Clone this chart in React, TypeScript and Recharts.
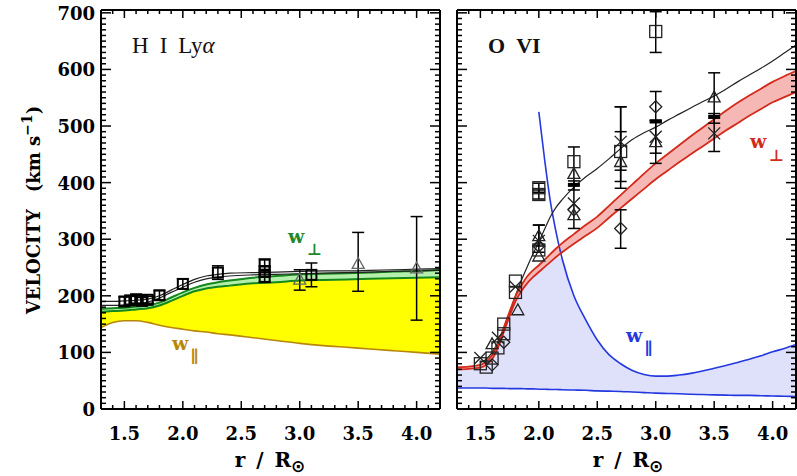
import React from 'react';
import { ComposedChart, Line, Area, Scatter, ErrorBar, XAxis, YAxis } from 'recharts';

// ---- H I Ly-alpha panel (left) ----
const lyaR = [1.3, 1.4, 1.5, 1.6, 1.7, 1.8, 1.9, 2.0, 2.1, 2.2, 2.3, 2.4, 2.6, 2.8, 3.0, 3.2, 3.4, 3.6, 3.8, 4.0, 4.2];
const lyaWpar = [144, 153, 156, 156, 153, 148, 144, 141, 138, 136, 133, 131, 126, 121, 116, 112, 109, 106, 103, 100, 97];
const lyaPerpLo = [172, 173, 174, 176, 178, 183, 191, 200, 208, 213, 216, 218, 222, 224, 227, 228, 229, 230, 231, 232, 233];
const lyaPerpHi = [177, 178, 179, 181, 183, 188, 197, 206, 214, 220, 224, 227, 232, 235, 238, 239, 240, 241, 243, 244, 246];
const lyaFitA = [190, 190, 191, 192, 194, 200, 210, 220, 229, 235, 238, 240, 241, 242, 243, 244, 244, 245, 246, 247, 248];
const lyaFitB = [183, 183, 184, 186, 189, 196, 206, 215, 224, 230, 233, 235, 237, 238, 239, 240, 241, 242, 243, 244, 245];

const lyaSquares = [
  { r: 1.5, v: 190, e: 8 }, { r: 1.55, v: 192, e: 7 }, { r: 1.6, v: 194, e: 7 },
  { r: 1.65, v: 191, e: 6 }, { r: 1.7, v: 193, e: 6 }, { r: 1.8, v: 201, e: 8 },
  { r: 2.0, v: 221, e: 9 }, { r: 2.3, v: 241, e: 12 }, { r: 2.7, v: 255, e: 10 },
  { r: 2.7, v: 243, e: 10 }, { r: 2.7, v: 233, e: 8 }, { r: 3.1, v: 237, e: 21 },
];
const lyaTriangles = [
  { r: 3.0, v: 229, e: [19, 17] }, { r: 3.5, v: 257, e: [49, 55] }, { r: 4.0, v: 249, e: [92, 91] },
];

// ---- O VI panel (right) ----
const oviR = [1.3, 1.4, 1.5, 1.55, 1.6, 1.65, 1.7, 1.75, 1.8, 1.85, 1.9, 1.95, 2.0, 2.05, 2.1, 2.15, 2.2, 2.3, 2.4, 2.5, 2.6, 2.7, 2.8, 2.9, 3.0, 3.1, 3.2, 3.3, 3.4, 3.5, 3.6, 3.7, 3.8, 3.9, 4.0, 4.1, 4.2];
const oviPerpLo = [70, 71, 73, 78, 88, 108, 136, 164, 190, 208, 222, 233, 242, 251, 260, 269, 277, 292, 306, 320, 338, 355, 372, 389, 406, 421, 436, 450, 464, 478, 492, 505, 518, 530, 542, 551, 560];
const oviPerpHi = [74, 75, 78, 84, 95, 116, 144, 172, 199, 218, 234, 245, 254, 264, 274, 284, 293, 309, 325, 340, 359, 378, 397, 416, 434, 450, 466, 482, 497, 512, 527, 541, 554, 566, 578, 588, 597];
const oviFit = [null, null, 82, 88, 100, 118, 140, 168, 200, 227, 251, 274, 295, 318, 340, 357, 370, 392, 410, 425, 442, 460, 476, 488, 498, 510, 521, 532, 543, 553, 565, 578, 590, 602, 615, 629, 643];
const oviParHi = [null, null, null, null, null, null, null, null, null, null, null, null, 525, 440, 365, 310, 265, 200, 158, 122, 96, 80, 68, 61, 58, 58, 60, 63, 67, 72, 77, 82, 88, 94, 101, 107, 114];
const oviParLo = [37, 37, 37, 37, 36.5, 36.5, 36.5, 36, 36, 36, 35.5, 35.5, 35, 35, 34.5, 34.5, 34, 33.5, 33, 32, 31.5, 31, 30, 29, 28, 27.5, 27, 26, 25.5, 25, 24.5, 24, 24, 23.5, 23, 22.5, 22];

const oviSquares = [
  { r: 1.5, v: 80 }, { r: 1.55, v: 74 }, { r: 1.6, v: 90 }, { r: 1.65, v: 108 },
  { r: 1.7, v: 150 }, { r: 1.7, v: 133 }, { r: 1.8, v: 226 }, { r: 1.8, v: 206 },
  { r: 2.0, v: 391, e: 8 }, { r: 2.0, v: 379, e: 8 }, { r: 2.0, v: 281 },
  { r: 2.3, v: 437, e: [50, 26] }, { r: 2.7, v: 455, e: [65, 79] }, { r: 3.0, v: 667, e: [37, 35] },
];
const oviTriangles = [
  { r: 1.6, v: 115 }, { r: 1.82, v: 175 }, { r: 2.0, v: 306, e: [18, 19] }, { r: 2.0, v: 270 },
  { r: 2.3, v: 416 }, { r: 2.3, v: 343 }, { r: 2.7, v: 437, e: [35, 53] },
  { r: 3.0, v: 472, e: [38, 38] }, { r: 3.5, v: 551, e: [46, 43] },
];
const oviDiamonds = [
  { r: 1.6, v: 78 }, { r: 1.7, v: 118 }, { r: 2.0, v: 288 }, { r: 2.3, v: 352 },
  { r: 2.7, v: 319, e: [35, 33] }, { r: 3.0, v: 534, e: [27, 27] },
];
const oviCrosses = [
  { r: 1.5, v: 90 }, { r: 1.65, v: 126 }, { r: 1.8, v: 216 }, { r: 2.0, v: 297, e: [20, 28] },
  { r: 2.3, v: 363, e: [44, 40] }, { r: 2.7, v: 472, e: [50, 62] }, { r: 3.0, v: 481, e: [29, 29] },
  { r: 3.5, v: 487, e: [32, 35] },
];
const oviBars = [{ r: 2.3, v: 396 }, { r: 3.0, v: 508 }, { r: 3.5, v: 516 }];

// ---- axes ----
const xMajor = [1.5, 2.0, 2.5, 3.0, 3.5, 4.0];
const yMajor = [0, 100, 200, 300, 400, 500, 600, 700];
const xTicks = Array.from({ length: 30 }, (_, i) => Math.round((1.3 + i * 0.1) * 10) / 10);
const yTicks = Array.from({ length: 71 }, (_, i) => i * 10);

const FONT = '"DejaVu Serif", serif';
const near = (list: number[], v: number) => list.some((m) => Math.abs(m - v) < 1e-6);

const makeXTick = (side: 'bottom' | 'top', labels: boolean) => (props: any) => {
  const { x, y, payload } = props;
  const major = near(xMajor, payload.value);
  const len = major ? 8 : 4;
  const dir = side === 'bottom' ? -1 : 1;
  return (
    <g>
      <line x1={x} x2={x} y1={y} y2={y + dir * len} stroke="#000" strokeWidth={1.5} />
      {labels && major && (
        <text x={x} y={y + 31} textAnchor="middle" fontFamily={FONT} fontWeight="bold" fontSize={18} fill="#000">
          {payload.value.toFixed(1)}
        </text>
      )}
    </g>
  );
};

const makeYTick = (side: 'left' | 'right', labels: boolean) => (props: any) => {
  const { x, y, payload } = props;
  const major = near(yMajor, payload.value);
  const len = major ? 10 : 5;
  const dir = side === 'left' ? 1 : -1;
  return (
    <g>
      <line x1={x} x2={x + dir * len} y1={y} y2={y} stroke="#000" strokeWidth={1.5} />
      {labels && major && (
        <text x={x - 6} y={y + 7} textAnchor="end" fontFamily={FONT} fontWeight="bold" fontSize={18} fill="#000">
          {payload.value}
        </text>
      )}
    </g>
  );
};

const Marker = (p: any) => {
  const { cx, cy, kind, s = 6, color = '#222', sw = 1.3 } = p;
  if (cx == null || cy == null) return null;
  switch (kind) {
    case 'square':
      return <rect x={cx - s} y={cy - s} width={2 * s} height={2 * s} fill="none" stroke={color} strokeWidth={sw} />;
    case 'triangle':
      return <polygon points={`${cx},${cy - s} ${cx - s},${cy + s * 0.8} ${cx + s},${cy + s * 0.8}`} fill="none" stroke={color} strokeWidth={sw} />;
    case 'diamond':
      return <polygon points={`${cx},${cy - s} ${cx + s},${cy} ${cx},${cy + s} ${cx - s},${cy}`} fill="none" stroke={color} strokeWidth={sw} />;
    case 'x':
      return (
        <g stroke={color} strokeWidth={sw}>
          <line x1={cx - s} y1={cy - s} x2={cx + s} y2={cy + s} />
          <line x1={cx - s} y1={cy + s} x2={cx + s} y2={cy - s} />
        </g>
      );
    default:
      return <rect x={cx - 6} y={cy - 2} width={12} height={4} fill="#000" />;
  }
};

const shapeOf = (kind: string, extra: any = {}) => (props: any) => <Marker {...props} {...extra} kind={kind} />;

// axes are 1px thick (0 would not be drawn); margins make the plot box exact
const Frame = (labels: boolean) => [
  <XAxis key="xb" xAxisId={0} dataKey="r" type="number" domain={[1.3, 4.2]} ticks={xTicks} interval={0}
    height={1} tickSize={0} tickMargin={0} tickLine={false} axisLine={{ stroke: '#000', strokeWidth: 2 }}
    tick={makeXTick('bottom', true)} allowDataOverflow />,
  <XAxis key="xt" xAxisId="top" orientation="top" dataKey="r" type="number" domain={[1.3, 4.2]} ticks={xTicks}
    interval={0} height={1} tickSize={0} tickMargin={0} tickLine={false} axisLine={{ stroke: '#000', strokeWidth: 2 }}
    tick={makeXTick('top', false)} allowDataOverflow />,
  <YAxis key="yl" yAxisId={0} type="number" domain={[0, 705]} ticks={yTicks} interval={0} width={1}
    tickSize={0} tickMargin={0} tickLine={false} axisLine={{ stroke: '#000', strokeWidth: 2 }}
    tick={makeYTick('left', labels)} allowDataOverflow />,
  <YAxis key="yr" yAxisId="right" orientation="right" type="number" domain={[0, 705]} ticks={yTicks} interval={0}
    width={1} tickSize={0} tickMargin={0} tickLine={false} axisLine={{ stroke: '#000', strokeWidth: 2 }}
    tick={makeYTick('right', false)} allowDataOverflow />,
];

const lyaRows = lyaR.map((r, i) => ({
  r,
  yellow: [lyaWpar[i], lyaPerpLo[i]],
  green: [lyaPerpLo[i], lyaPerpHi[i]],
  wpar: lyaWpar[i],
  perpLo: lyaPerpLo[i],
  perpHi: lyaPerpHi[i],
  fitA: lyaFitA[i],
  fitB: lyaFitB[i],
}));

const oviRows = oviR.map((r, i) => {
  const hi = oviParHi[i];
  const top = hi == null ? oviPerpLo[i] : Math.min(hi, oviPerpLo[i]);
  return {
    r,
    shade: [oviParLo[i], top],
    red: [oviPerpLo[i], oviPerpHi[i]],
    perpLo: oviPerpLo[i],
    perpHi: oviPerpHi[i],
    fit: oviFit[i],
    parHi: hi,
    parLo: oviParLo[i],
  };
});

const errBar = (w = 6) => <ErrorBar dataKey="e" direction="y" width={w} stroke="#000" strokeWidth={1.5} />;

const LyaPanel = () => (
  <ComposedChart width={448} height={476} data={lyaRows} margin={{ top: 9, right: 7, bottom: 66, left: 100 }}>
    {Frame(true)}
    <Area dataKey="yellow" type="monotone" fill="#ffff00" fillOpacity={1} stroke="none" isAnimationActive={false} />
    <Area dataKey="green" type="monotone" fill="#b4f0ac" fillOpacity={1} stroke="none" isAnimationActive={false} />
    <Line dataKey="wpar" type="monotone" stroke="#b8860b" strokeWidth={1.6} dot={false} isAnimationActive={false} />
    <Line dataKey="perpLo" type="monotone" stroke="#14881c" strokeWidth={2} dot={false} isAnimationActive={false} />
    <Line dataKey="perpHi" type="monotone" stroke="#14881c" strokeWidth={2} dot={false} isAnimationActive={false} />
    <Line dataKey="fitB" type="monotone" stroke="#222" strokeWidth={1.2} dot={false} isAnimationActive={false} />
    <Line dataKey="fitA" type="monotone" stroke="#222" strokeWidth={1.2} dot={false} isAnimationActive={false} />
    <Scatter data={lyaSquares} dataKey="v" shape={shapeOf('square', { s: 5, color: '#000', sw: 2 })} isAnimationActive={false}>
      {errBar(6)}
    </Scatter>
    <Scatter data={lyaTriangles} dataKey="v" shape={shapeOf('triangle', { s: 6, color: '#666', sw: 1.3 })} isAnimationActive={false}>
      {errBar(6)}
    </Scatter>
  </ComposedChart>
);

const OviPanel = () => (
  <ComposedChart width={348} height={476} data={oviRows} margin={{ top: 9, right: 0, bottom: 66, left: 7 }}>
    {Frame(false)}
    <Area dataKey="shade" type="monotone" fill="#dfe1fa" fillOpacity={1} stroke="none" isAnimationActive={false} />
    <Area dataKey="red" type="monotone" fill="#f6b8b4" fillOpacity={1} stroke="none" isAnimationActive={false} />
    <Line dataKey="parLo" type="monotone" stroke="#2438e0" strokeWidth={1.6} dot={false} isAnimationActive={false} />
    <Line dataKey="parHi" type="monotone" stroke="#2438e0" strokeWidth={1.6} dot={false} isAnimationActive={false} />
    <Line dataKey="fit" type="monotone" stroke="#222" strokeWidth={1.2} dot={false} isAnimationActive={false} />
    <Line dataKey="perpLo" type="monotone" stroke="#d42a1c" strokeWidth={1.8} dot={false} isAnimationActive={false} />
    <Line dataKey="perpHi" type="monotone" stroke="#d42a1c" strokeWidth={1.8} dot={false} isAnimationActive={false} />
    <Scatter data={oviSquares} dataKey="v" shape={shapeOf('square', { s: 6 })} isAnimationActive={false}>
      {errBar(6)}
    </Scatter>
    <Scatter data={oviTriangles} dataKey="v" shape={shapeOf('triangle', { s: 6 })} isAnimationActive={false}>
      {errBar(6)}
    </Scatter>
    <Scatter data={oviDiamonds} dataKey="v" shape={shapeOf('diamond', { s: 6 })} isAnimationActive={false}>
      {errBar(6)}
    </Scatter>
    <Scatter data={oviCrosses} dataKey="v" shape={shapeOf('x', { s: 6 })} isAnimationActive={false}>
      {errBar(6)}
    </Scatter>
    <Scatter data={oviBars} dataKey="v" shape={shapeOf('bar')} isAnimationActive={false} />
  </ComposedChart>
);

const sym = '"DejaVu Sans", sans-serif';

const Labels = () => (
  <svg width={797} height={476} style={{ position: 'absolute', left: 0, top: 0, pointerEvents: 'none' }}>
    <text transform="translate(40,210) rotate(-90)" textAnchor="middle" fontFamily={FONT} fontWeight="bold" fontSize={18} fill="#000">
      VELOCITY<tspan dx={17}>(km s</tspan>
      <tspan dy={-8} fontSize={14}>−1</tspan>
      <tspan dy={8}>)</tspan>
    </text>
    {[270, 628].map((cx) => (
      <text key={cx} x={cx} y={467} textAnchor="middle" fontFamily={FONT} fontWeight="bold" fontSize={20} fill="#000">
        r<tspan dx={11}>/</tspan>
        <tspan dx={11}>R</tspan>
        <tspan dy={5} fontSize={17} fontFamily={sym}>⊙</tspan>
      </text>
    ))}
    <text x={132} y={53} fontFamily='"Liberation Serif", serif' fontSize={23} fill="#111">
      H<tspan dx={11}>I</tspan>
      <tspan dx={11}>Ly</tspan>
      <tspan fontStyle="italic">α</tspan>
    </text>
    <text x={488} y={53} fontFamily='"Liberation Serif", serif' fontWeight="bold" fontSize={22} fill="#111">
      O<tspan dx={11}>VI</tspan>
    </text>
    <text x={288} y={243} fontFamily={FONT} fontWeight="bold" fontSize={19} fill="#20882a">
      w<tspan dx={3} dy={12} fontFamily={sym} fontSize={16}>⊥</tspan>
    </text>
    <text x={172} y={350} fontFamily={FONT} fontWeight="bold" fontSize={19} fill="#b8860b">
      w<tspan dx={2} dy={11} fontFamily={sym} fontSize={16}>∥</tspan>
    </text>
    <text x={750} y={148} fontFamily={FONT} fontWeight="bold" fontSize={19} fill="#d42a1c">
      w<tspan dx={3} dy={13} fontFamily={sym} fontSize={16}>⊥</tspan>
    </text>
    <text x={626} y={342} fontFamily={FONT} fontWeight="bold" fontSize={19} fill="#2438e0">
      w<tspan dx={2} dy={11} fontFamily={sym} fontSize={16}>∥</tspan>
    </text>
  </svg>
);

export default function App() {
  return (
    <div style={{ position: 'absolute', left: 0, top: 0, width: 797, height: 476, background: '#fff', overflow: 'hidden' }}>
      <div style={{ position: 'absolute', left: 0, top: 0 }}>
        <LyaPanel />
      </div>
      <div style={{ position: 'absolute', left: 449, top: 0 }}>
        <OviPanel />
      </div>
      <Labels />
    </div>
  );
}
